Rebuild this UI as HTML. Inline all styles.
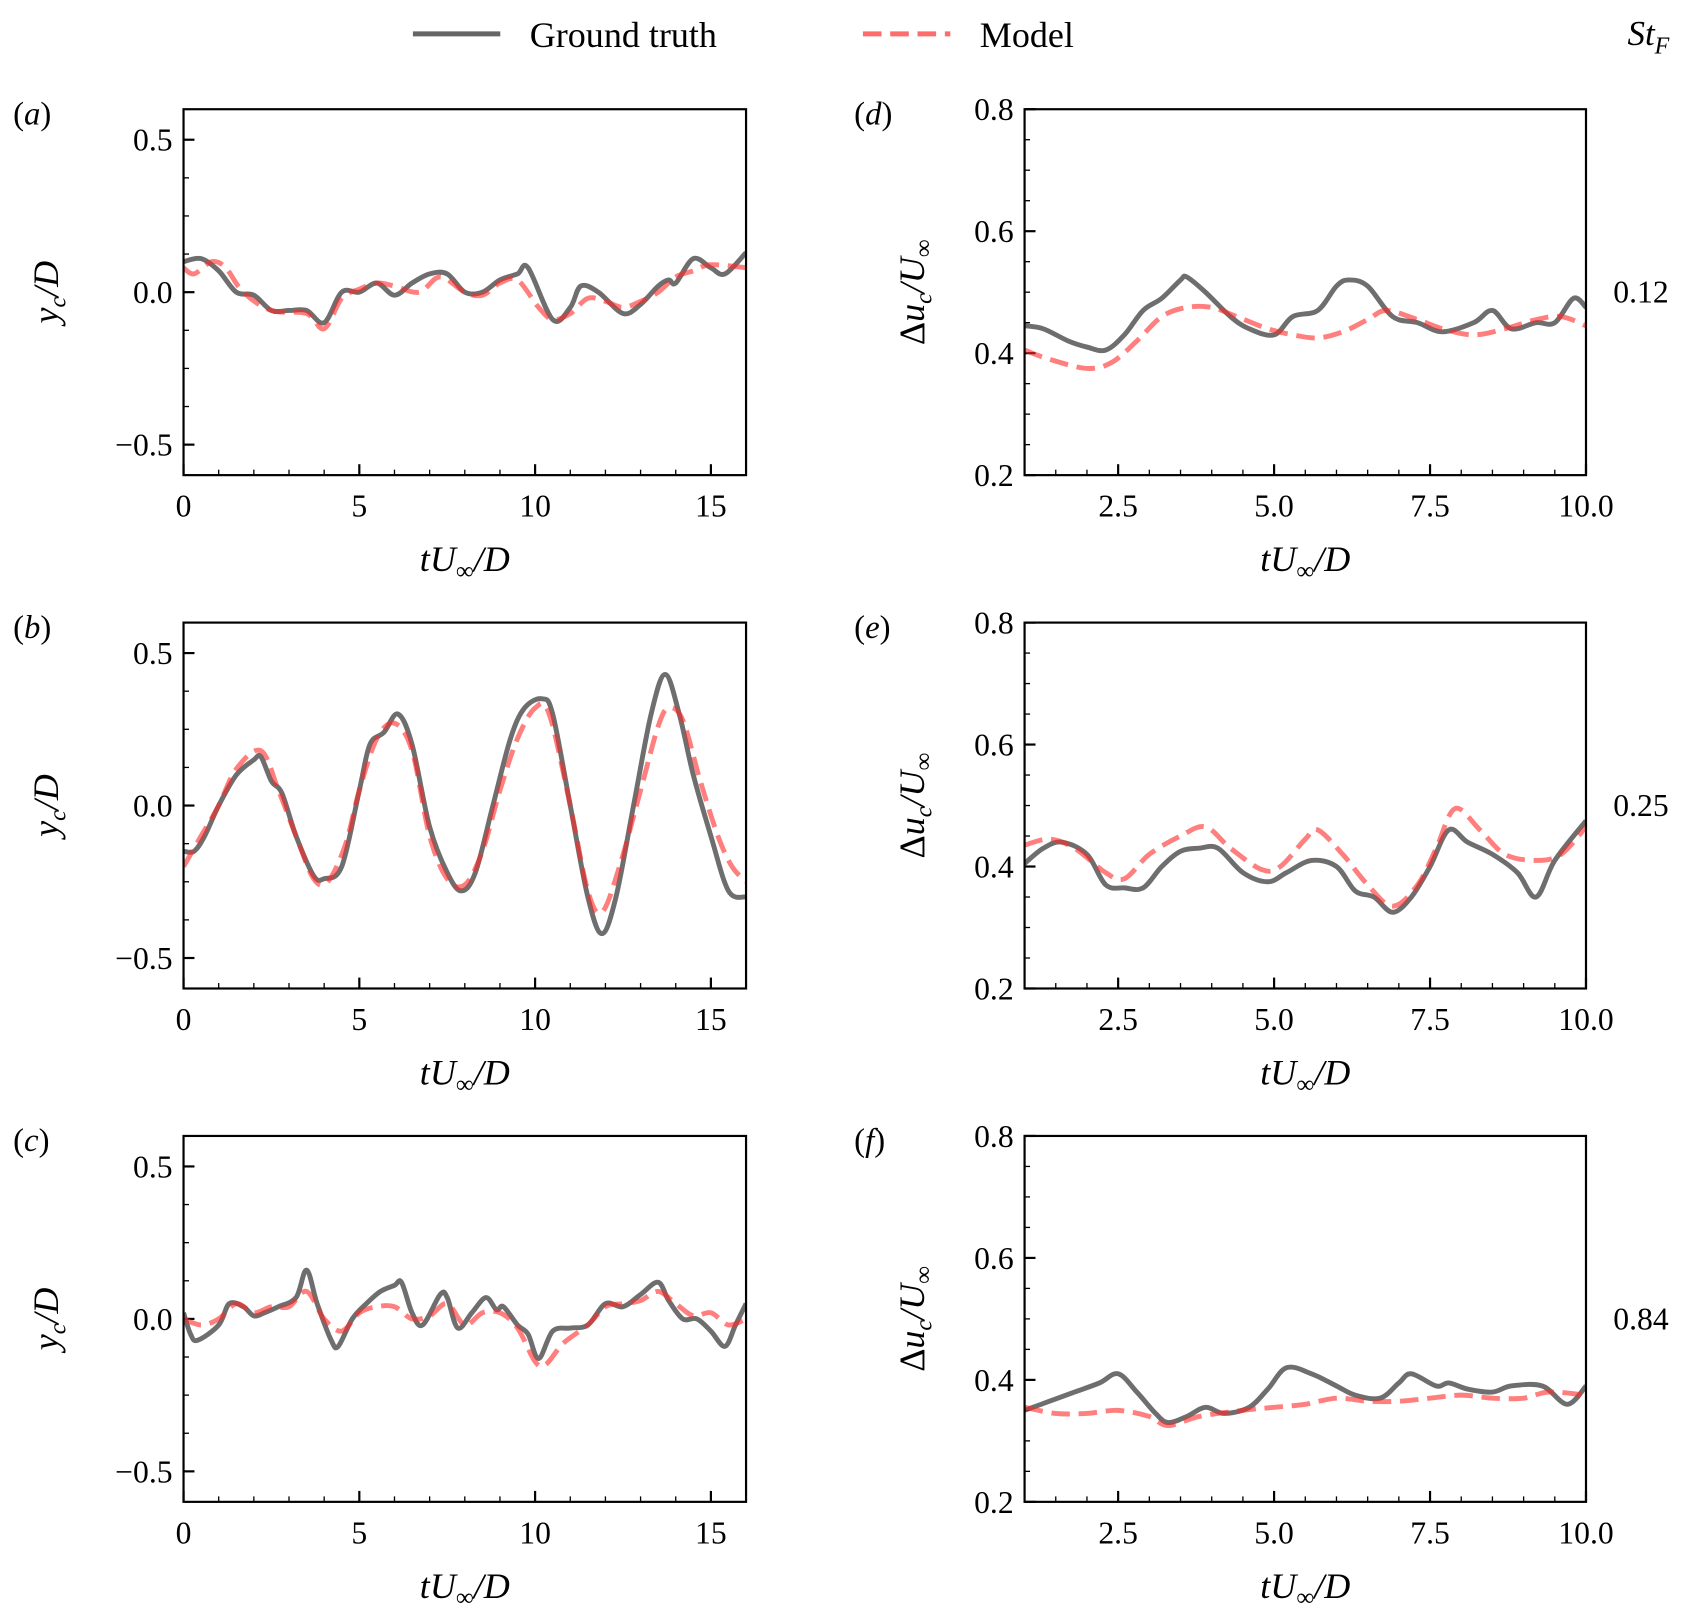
<!DOCTYPE html>
<html><head><meta charset="utf-8">
<style>
html,body{margin:0;padding:0;background:#fff}
svg{display:block}
text{font-family:"Liberation Serif","DejaVu Serif",serif;fill:#000}
</style></head>
<body>
<svg id="fig" width="1704" height="1622" viewBox="0 0 1560 1485" xmlns="http://www.w3.org/2000/svg">
<g>
<line x1="378" y1="31" x2="458" y2="31" stroke="#666" stroke-width="4.5"/>
<text x="485" y="43" font-size="33">Ground truth</text>
<line x1="790" y1="31" x2="870" y2="31" stroke="#ff6b6b" stroke-width="4.5" stroke-dasharray="17,8"/>
<text x="897" y="43" font-size="33">Model</text>
</g>
<text x="1490" y="41" font-size="32" font-style="italic">St<tspan font-size="22" dy="8">F</tspan></text>
<text x="1477" y="277" font-size="29">0.12</text>
<text x="1477" y="747" font-size="29">0.25</text>
<text x="1477" y="1217" font-size="29">0.84</text>
</svg>
<script>
// ---- data ----
const tA  = [0,0.5,1,1.5,2,2.5,3,3.5,4,4.5,5,5.5,6,6.5,7,7.5,8,8.5,9,9.5,9.8,10.5,11,11.3,11.8,12.5,13,13.5,13.8,14,14.5,15,15.4,16];
const gtA = [0.1,0.11,0.07,0.0,-0.01,-0.06,-0.06,-0.06,-0.1,0.0,0.0,0.03,-0.01,0.03,0.06,0.06,0.0,0.0,0.04,0.06,0.08,-0.09,-0.05,0.02,0.0,-0.07,-0.04,0.02,0.04,0.03,0.11,0.08,0.06,0.13];
const tAm = [0,0.3,0.8,1.2,1.7,2.5,3.5,4,4.5,5,5.5,6,6.7,7.3,8,8.5,9,9.5,10.1,10.5,11,11.5,12,12.5,13,13.5,14,14.5,15,16];
const mA  = [0.08,0.06,0.1,0.08,0.0,-0.06,-0.07,-0.12,-0.02,0.01,0.03,0.02,0.0,0.05,0.0,-0.01,0.03,0.04,-0.05,-0.09,-0.07,-0.02,-0.03,-0.05,-0.03,0.0,0.05,0.07,0.09,0.08];

const tB  = [0,0.3,0.6,1,1.5,2,2.2,2.5,2.8,3.2,3.7,4,4.5,5,5.3,5.7,6.1,6.5,7,7.5,7.9,8.3,8.8,9.3,9.7,10.2,10.5,11,11.5,11.9,12.3,12.8,13.3,13.7,14.1,14.5,15,15.5,16];
const gtB = [-0.15,-0.15,-0.1,0.0,0.1,0.15,0.16,0.08,0.04,-0.1,-0.23,-0.24,-0.2,0.05,0.2,0.24,0.3,0.2,-0.07,-0.22,-0.28,-0.22,0.0,0.22,0.32,0.35,0.3,0.0,-0.3,-0.42,-0.3,0.0,0.3,0.43,0.3,0.1,-0.1,-0.28,-0.3];
const tBm = [0,0.5,1,1.5,2.2,2.7,3.2,3.7,4.1,4.6,5,5.5,6,6.5,7,7.5,8,8.5,9,9.5,10,10.4,11,11.5,11.9,12.4,13,13.5,13.8,14.2,14.7,15.2,15.6,16];
const mB  = [-0.2,-0.1,0.0,0.12,0.18,0.05,-0.1,-0.24,-0.25,-0.13,0.05,0.22,0.27,0.18,-0.1,-0.24,-0.26,-0.15,0.05,0.22,0.32,0.3,0.0,-0.28,-0.35,-0.2,0.05,0.26,0.32,0.28,0.08,-0.1,-0.2,-0.25];

const tC  = [0,0.2,0.4,1,1.3,1.7,2,2.3,2.7,3.2,3.5,3.8,4.2,4.4,4.8,5.2,5.6,6,6.2,6.5,6.8,7.3,7.5,7.8,8.2,8.6,8.9,9.1,9.5,9.8,10.1,10.5,11,11.5,12,12.5,13,13.5,13.8,14.2,14.6,15,15.4,15.7,16];
const gtC = [0.02,-0.05,-0.07,-0.02,0.05,0.04,0.01,0.02,0.04,0.07,0.16,0.05,-0.07,-0.09,0.0,0.05,0.09,0.11,0.12,0.02,-0.02,0.08,0.07,-0.03,0.02,0.07,0.03,0.04,-0.02,-0.05,-0.13,-0.04,-0.03,-0.02,0.05,0.04,0.08,0.12,0.06,0.0,0.0,-0.04,-0.09,-0.02,0.05];
const tCm = [0,0.5,1,1.5,2,2.5,3,3.5,4,4.5,5,5.5,6,6.5,7,7.5,8,8.5,9,9.5,10,10.3,10.8,11.5,12,12.5,13,13.5,14,14.5,15,15.5,16];
const mC  = [0.0,-0.02,0.0,0.05,0.02,0.04,0.04,0.09,0.0,-0.04,0.02,0.04,0.04,0.0,0.01,0.05,-0.02,0.02,0.02,-0.03,-0.14,-0.15,-0.08,-0.02,0.04,0.05,0.06,0.09,0.05,0.01,0.02,-0.02,0.0];

const tD  = [1.0,1.3,1.7,2.0,2.3,2.6,2.9,3.2,3.5,3.6,3.9,4.3,4.6,5.0,5.3,5.7,6.0,6.2,6.5,6.9,7.3,7.7,8.2,8.5,8.8,9.2,9.5,9.8,10];
const gtD = [0.445,0.44,0.42,0.41,0.405,0.43,0.47,0.49,0.52,0.525,0.5,0.46,0.44,0.43,0.46,0.47,0.51,0.52,0.51,0.46,0.45,0.435,0.45,0.47,0.44,0.45,0.45,0.49,0.475];
const tDm = [1.0,1.4,2.0,2.4,2.8,3.2,3.6,4.0,4.4,4.9,5.3,5.7,6.1,6.5,6.8,7.3,7.7,8.2,8.7,9.2,9.6,10];
const mD  = [0.405,0.39,0.375,0.385,0.42,0.46,0.475,0.475,0.46,0.44,0.43,0.425,0.435,0.455,0.47,0.455,0.44,0.43,0.44,0.455,0.46,0.445];

const tE  = [1.0,1.3,1.6,2.0,2.3,2.6,2.9,3.2,3.5,3.8,4.1,4.5,4.9,5.2,5.6,6.0,6.3,6.6,6.9,7.2,7.5,7.8,8.1,8.5,8.9,9.2,9.5,10];
const gtE = [0.405,0.43,0.44,0.42,0.37,0.365,0.365,0.4,0.425,0.43,0.43,0.39,0.375,0.39,0.41,0.4,0.36,0.35,0.325,0.35,0.4,0.46,0.44,0.42,0.39,0.35,0.41,0.475];
const tEm = [1.0,1.4,1.8,2.3,2.6,3.0,3.5,3.9,4.3,4.8,5.1,5.5,5.7,6.1,6.5,6.9,7.3,7.6,7.9,8.3,8.7,9.2,9.6,10];
const mE  = [0.435,0.445,0.43,0.39,0.38,0.42,0.45,0.465,0.43,0.395,0.4,0.445,0.46,0.42,0.37,0.335,0.37,0.43,0.495,0.46,0.42,0.41,0.42,0.465];

const tF  = [1.0,1.4,1.8,2.2,2.5,2.8,3.1,3.3,3.6,3.9,4.2,4.6,4.9,5.2,5.6,6.0,6.3,6.7,7.0,7.2,7.6,7.8,8.1,8.5,8.8,9.3,9.7,10];
const gtF = [0.35,0.365,0.38,0.395,0.41,0.38,0.345,0.33,0.34,0.355,0.345,0.355,0.385,0.42,0.41,0.39,0.375,0.37,0.395,0.41,0.39,0.395,0.385,0.38,0.39,0.39,0.36,0.39];
const tFm = [1.0,1.5,2.0,2.5,3.0,3.3,3.8,4.5,5.0,5.5,6.0,6.5,7.0,7.5,8.0,8.5,9.0,9.4,10];
const mF  = [0.355,0.345,0.345,0.35,0.34,0.325,0.34,0.35,0.355,0.36,0.37,0.365,0.365,0.37,0.375,0.37,0.37,0.38,0.375];

const leftXTicks = [0,5,10,15];
const leftYTicks = [-0.5,0.0,0.5];
const rightXTicks = [2.5,5.0,7.5,10.0];
const rightYTicks = [0.2,0.4,0.6,0.8];

// ---- drawing ----
const NS = "http://www.w3.org/2000/svg";
const svg = document.getElementById('fig');
function mk(tag, attrs, parent){ const e=document.createElementNS(NS,tag); for(const k in attrs) e.setAttribute(k,attrs[k]); (parent||svg).appendChild(e); return e; }
function smooth(pts){
  let d="M"+pts[0][0].toFixed(2)+","+pts[0][1].toFixed(2);
  for(let i=0;i<pts.length-1;i++){
    const p0=pts[Math.max(i-1,0)],p1=pts[i],p2=pts[i+1],p3=pts[Math.min(i+2,pts.length-1)];
    const c1=[p1[0]+(p2[0]-p0[0])/6,p1[1]+(p2[1]-p0[1])/6];
    const c2=[p2[0]-(p3[0]-p1[0])/6,p2[1]-(p3[1]-p1[1])/6];
    d+=" C"+c1[0].toFixed(2)+","+c1[1].toFixed(2)+" "+c2[0].toFixed(2)+","+c2[1].toFixed(2)+" "+p2[0].toFixed(2)+","+p2[1].toFixed(2);
  }
  return d;
}
function fmt(v,dec){ const s=Math.abs(v).toFixed(dec); return (v<0?"\u2212":"")+s; }

function panel(cfg){
  const g=mk('g',{});
  
  
  const L=cfg.x0,R=cfg.x1,T=cfg.y0,B=cfg.y1;
  const sx=v=>L+(v-cfg.xmin)/(cfg.xmax-cfg.xmin)*(R-L);
  const sy=v=>B-(v-cfg.ymin)/(cfg.ymax-cfg.ymin)*(B-T);
  const clip=mk('clipPath',{id:'clip-'+cfg.id},g);
  mk('rect',{x:L,y:T,width:R-L,height:B-T},clip);
  for(let v=cfg.xmin;v<=cfg.xmax+1e-9;v+=cfg.xminor){
    const t=mk('line',{x1:sx(v),x2:sx(v),y1:B,y2:B-5,stroke:'#000','stroke-width':1.2},g);
    
    
  }
  const y0m=Math.ceil(cfg.ymin/cfg.yminor-1e-9)*cfg.yminor;
  for(let v=y0m;v<=cfg.ymax+1e-9;v+=cfg.yminor){
    const t=mk('line',{x1:L,x2:L+5,y1:sy(v),y2:sy(v),stroke:'#000','stroke-width':1.2},g);
    
    
  }
  cfg.xticks.forEach(v=>{
    const t=mk('line',{x1:sx(v),x2:sx(v),y1:B,y2:B-10,stroke:'#000','stroke-width':2},g);
    
    
    const lb=mk('text',{x:sx(v),y:B+38,'font-size':29,'text-anchor':'middle'},g);
    lb.textContent=cfg.xdec==null?String(v):v.toFixed(cfg.xdec);
    
    
  });
  cfg.yticks.forEach(v=>{
    const t=mk('line',{x1:L,x2:L+10,y1:sy(v),y2:sy(v),stroke:'#000','stroke-width':2},g);
    
    
    const lb=mk('text',{x:L-10,y:sy(v)+10,'font-size':29,'text-anchor':'end'},g);
    lb.textContent=fmt(v,1);
    
    
  });
  const pts=(ts,vs)=>ts.map((t,i)=>[sx(t),sy(vs[i])]);
  const gt=mk('path',{d:smooth(pts(cfg.tg,cfg.g)),fill:'none',stroke:'#555','stroke-opacity':0.85,'stroke-width':4.5,'stroke-linejoin':'round','clip-path':'url(#clip-'+cfg.id+')'},g);
  
  
  const md=mk('path',{d:smooth(pts(cfg.tm,cfg.m)),fill:'none',stroke:'#ff2a2a','stroke-opacity':0.6,'stroke-width':4.5,'stroke-dasharray':'17,8','clip-path':'url(#clip-'+cfg.id+')'},g);
  
  
  const fr=mk('rect',{x:L,y:T,width:R-L,height:B-T,fill:'none',stroke:'#000','stroke-width':2},g);
  
  
  const xl=mk('text',{x:(L+R)/2,y:B+88,'font-size':33,'text-anchor':'middle','font-style':'italic'},g);
  xl.innerHTML='tU<tspan font-size="23" dy="7" font-style="normal">\u221E</tspan><tspan dy="-7">/D</tspan>';
  
  
  const yx=cfg.ylabX, yy=(T+B)/2;
  const yl=mk('text',{x:yx,y:yy,'font-size':33,'text-anchor':'middle','font-style':'italic',transform:'rotate(-90 '+yx+' '+yy+')'},g);
  yl.innerHTML=cfg.ylab;
  
  
  const pl=mk('text',{x:cfg.plx,y:T+14,'font-size':30},g);
  pl.innerHTML='(<tspan font-style="italic">'+cfg.id+'</tspan>)';
  
  
}
const ylabL='y<tspan font-size="22" dy="7">c</tspan><tspan dy="-7">/D</tspan>';
const ylabR='<tspan font-style="normal">\u0394</tspan>u<tspan font-size="22" dy="7">c</tspan><tspan dy="-7">/U</tspan><tspan font-size="23" dy="7" font-style="normal">\u221E</tspan>';
const rows=[[100,435],[570,905],[1040,1375]];
const leftData=[['a',tA,gtA,tAm,mA],['b',tB,gtB,tBm,mB],['c',tC,gtC,tCm,mC]];
const rightData=[['d',tD,gtD,tDm,mD],['e',tE,gtE,tEm,mE],['f',tF,gtF,tFm,mF]];
leftData.forEach((d,i)=>panel({id:d[0],tg:d[1],g:d[2],tm:d[3],m:d[4],x0:168,x1:683,y0:rows[i][0],y1:rows[i][1],xmin:0,xmax:16,ymin:-0.6,ymax:0.6,xticks:leftXTicks,yticks:leftYTicks,xminor:1,yminor:0.125,xdec:null,ylab:ylabL,ylabX:53,plx:12}));
rightData.forEach((d,i)=>panel({id:d[0],tg:d[1],g:d[2],tm:d[3],m:d[4],x0:938,x1:1452,y0:rows[i][0],y1:rows[i][1],xmin:1,xmax:10,ymin:0.2,ymax:0.8,xticks:rightXTicks,yticks:rightYTicks,xminor:0.5,yminor:0.05,xdec:1,ylab:ylabR,ylabX:846,plx:782}));
</script>
</body></html>
